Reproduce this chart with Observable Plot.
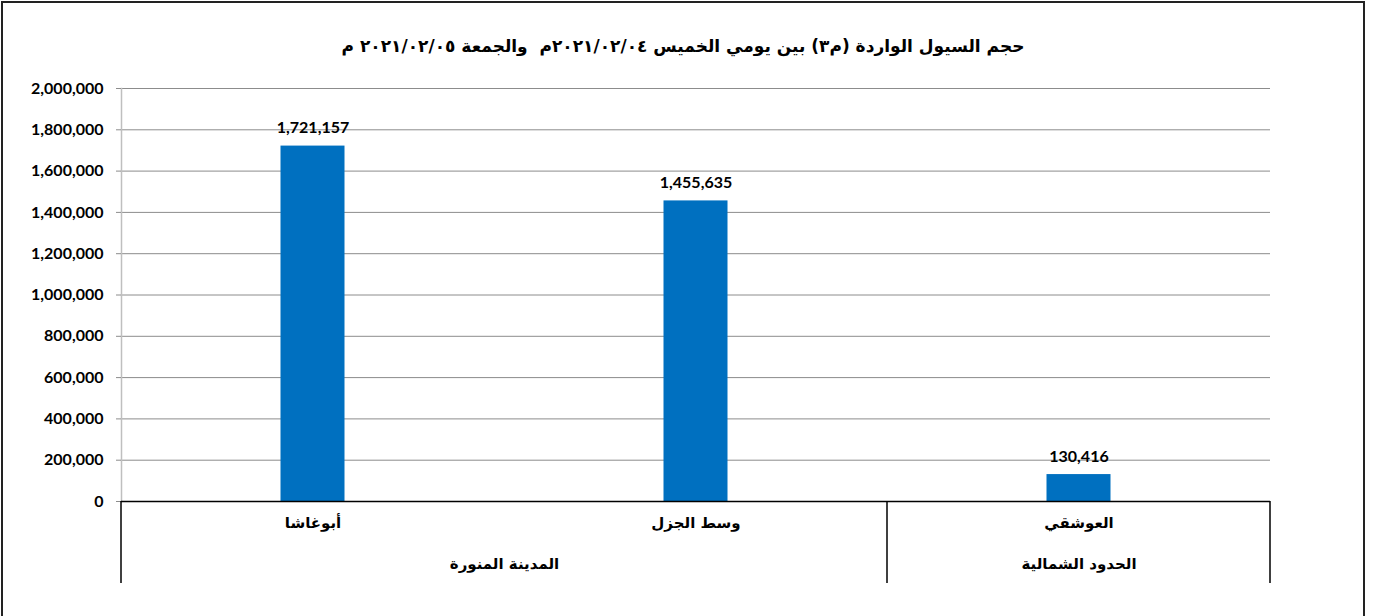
<!DOCTYPE html>
<html lang="ar">
<head>
<meta charset="utf-8">
<script src="https://cdn.jsdelivr.net/npm/d3@7"></script>
<script src="https://cdn.jsdelivr.net/npm/@observablehq/plot@0.6"></script>
<style>
  html, body { margin: 0; padding: 0; background: #fff; }
  #wrap { position: relative; width: 1386px; height: 616px; overflow: hidden; }
  #border { position: absolute; left: 1px; top: 1px; width: 1364px; height: 640px;
            border: 2px solid #222; box-sizing: border-box; pointer-events: none; }
  #title { height: 70px; box-sizing: border-box; padding-top: 36px; text-align: center;
           font: bold 17px "DejaVu Sans", sans-serif; color: #000; direction: rtl;
           width: 1366px; }
  svg { display: block; }
</style>
</head>
<body>
<div id="wrap">
  <div id="title"></div>
  <div id="chart"></div>
  <div id="border"></div>
</div>
<script>
const title = "حجم السيول الواردة (م٣) بين يومي الخميس ٢٠٢١/٠٢/٠٤م\u00a0 والجمعة ٢٠٢١/٠٢/٠٥ م";
const categories = ["أبوغاشا", "وسط الجزل", "العوشقي"];
const values = [1721157, 1455635, 130416];
const groups = ["المدينة المنورة", "الحدود الشمالية"];
const groupMembers = [["أبوغاشا", "وسط الجزل"], ["العوشقي"]];
const yTicks = [0, 200000, 400000, 600000, 800000, 1000000, 1200000, 1400000, 1600000, 1800000, 2000000];

document.getElementById("title").textContent = title;

const data = categories.map((c, i) => ({category: c, value: values[i]}));

const W = 1386, H = 546, ML = 121, MR = 116, MT = 18, MB = 115;
const bw = (W - ML - MR) / categories.length;
const barW = 64;
const numFont = "Lato, 'Open Sans', sans-serif";
const arFont = "'DejaVu Sans', sans-serif";
const fmt = d3.format(",");

const groupMarks = groups.map((g, gi) => {
  const mem = groupMembers[gi];
  return Plot.text([g], {
    x: () => mem[0], text: d => d, frameAnchor: "bottom",
    dx: (mem.length - 1) * bw / 2, dy: 67,
    fontFamily: arFont, fontWeight: "bold", fontSize: 15, fill: "#000"
  });
});

const plot = Plot.plot({
  width: W, height: H,
  marginLeft: ML, marginRight: MR, marginTop: MT, marginBottom: MB,
  style: {background: "transparent", overflow: "visible"},
  x: {type: "band", domain: categories, padding: 0, axis: null},
  y: {domain: [0, 2000000], axis: null},
  marks: [
    Plot.gridY(yTicks, {stroke: "#8c8c8c", strokeOpacity: 1, strokeWidth: 1}),
    Plot.frame({anchor: "left", stroke: "#bfbfbf", strokeWidth: 1.5}),
    Plot.axisY(yTicks, {
      label: null,
      tickSize: 5, tickPadding: 13, stroke: "#8c8c8c", strokeOpacity: 1,
      tickFormat: fmt, fontFamily: numFont, fontWeight: "bold", fontSize: 16,
      fill: "#000", style: "letter-spacing:0.4px"
    }),
    Plot.barY(data, {
      x: "category", y: "value", fill: "#0070C0",
      insetLeft: (bw - barW) / 2, insetRight: (bw - barW) / 2
    }),
    Plot.ruleY([0], {stroke: "#000", strokeWidth: 1.5}),
    Plot.text(data, {
      x: "category", y: "value", text: d => fmt(d.value), dy: -18,
      fontFamily: numFont, fontWeight: "bold", fontSize: 16, fill: "#000",
      style: "letter-spacing:0.4px"
    }),
    Plot.text(data, {
      x: "category", text: "category", frameAnchor: "bottom", dy: 26,
      fontFamily: arFont, fontWeight: "bold", fontSize: 15, fill: "#000"
    }),
    ...groupMarks
  ]
});

// category-axis separator lines drawn from the plot's own x scale
const xs = plot.scale("x");
const edges = [xs.apply(categories[0])];
groupMembers.forEach(mem => edges.push(xs.apply(mem[mem.length - 1]) + xs.bandwidth));
const y0 = H - MB;
const sel = d3.select(plot);
sel.append("g").selectAll("line").data(edges).join("line")
  .attr("x1", d => d).attr("x2", d => d)
  .attr("y1", y0).attr("y2", y0 + 82)
  .attr("stroke", "#000").attr("stroke-width", 1.5);

document.getElementById("chart").appendChild(plot);
</script>
</body>
</html>
